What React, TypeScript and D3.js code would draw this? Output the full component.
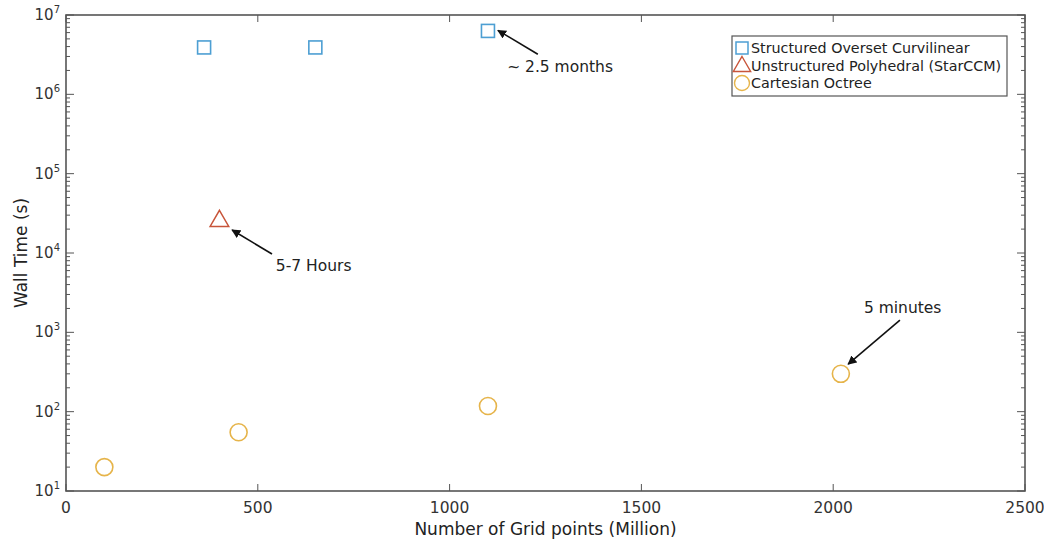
import * as d3 from "d3";
import React from "react";

// data
const structuredX = [360, 650, 1100];
const structuredY = [3.9e6, 3.9e6, 6.3e6];
const polyX = [400];
const polyY = [2.6e4];
const octreeX = [100, 450, 1100, 2020];
const octreeY = [20, 55, 118, 300];

const xTicks = [0, 500, 1000, 1500, 2000, 2500];
const yExps = [1, 2, 3, 4, 5, 6, 7];

const legendLabels = [
    "Structured Overset Curvilinear",
    "Unstructured Polyhedral (StarCCM)",
    "Cartesian Octree",
];

// annotations: text anchor + arrow tail -> head, all in data units
const notes = [
    { text: "~ 2.5 months", tx: 1150, ty: 1.9e6, fx: 1230, fy: 3.2e6, hx: 1126, hy: 6.4e6 },
    { text: "5-7 Hours", tx: 547, ty: 5.9e3, fx: 537, fy: 9.7e3, hx: 433, hy: 1.95e4 },
    { text: "5 minutes", tx: 2080, ty: 1746, fx: 2174, fy: 1426, hx: 2039, hy: 397 },
];

const blue = "#4d9fd3";
const red = "#c8553a";
const yellow = "#e6b44a";
const axisCol = "#555";
const font = "'DejaVu Sans', sans-serif";

export default function App() {
    const width = 1044;
    const height = 546;
    const margin = { top: 15, right: 19, bottom: 55, left: 66 };

    const x = d3.scaleLinear().domain([0, 2500]).range([margin.left, width - margin.right]);
    const y = d3.scaleLog().domain([10, 1e7]).range([height - margin.bottom, margin.top]);

    const x0 = x.range()[0], x1 = x.range()[1];
    const y0 = y.range()[0], y1 = y.range()[1];

    const minor: number[] = [];
    yExps.slice(0, -1).forEach((e) => {
        for (let k = 2; k <= 9; k++) minor.push(k * Math.pow(10, e));
    });

    const tri = d3.symbol().type(d3.symbolTriangle).size(150)();

    return (
        <svg width={width} height={height} style={{ position: "absolute", left: 0, top: 0, background: "#fff" }}
            fontFamily={font}>
            <rect x={0} y={0} width={width} height={height} fill="#fff" />

            {/* x ticks, bottom and top, inward */}
            {xTicks.map((t) => (
                <g key={"xt" + t}>
                    <line x1={x(t)} x2={x(t)} y1={y0} y2={y0 - 7} stroke={axisCol} strokeWidth={1} />
                    <line x1={x(t)} x2={x(t)} y1={y1} y2={y1 + 7} stroke={axisCol} strokeWidth={1} />
                    <text x={x(t)} y={y0 + 22} textAnchor="middle" fontSize={15.5} fill="#333">{t}</text>
                </g>
            ))}

            {/* y ticks, left and right */}
            {yExps.map((e) => {
                const v = Math.pow(10, e);
                return (
                    <g key={"yt" + e}>
                        <line x1={x0} x2={x0 + 8} y1={y(v)} y2={y(v)} stroke={axisCol} />
                        <line x1={x1} x2={x1 - 8} y1={y(v)} y2={y(v)} stroke={axisCol} />
                        <text x={x0 - 6} y={y(v) + 5} textAnchor="end" fontSize={15} fill="#333">
                            10<tspan dy={-7} fontSize={10}>{e}</tspan>
                        </text>
                    </g>
                );
            })}
            {minor.map((v) => (
                <g key={"ym" + v}>
                    <line x1={x0} x2={x0 + 4} y1={y(v)} y2={y(v)} stroke={axisCol} />
                    <line x1={x1} x2={x1 - 4} y1={y(v)} y2={y(v)} stroke={axisCol} />
                </g>
            ))}

            {/* box */}
            <rect x={x0} y={y1} width={x1 - x0} height={y0 - y1} fill="none" stroke={axisCol} strokeWidth={1.6} />

            {/* axis labels */}
            <text x={(x0 + x1) / 2} y={height - 11} textAnchor="middle" fontSize={17} fill="#222">
                Number of Grid points (Million)
            </text>
            <text transform={`translate(27,${(y0 + y1) / 2}) rotate(-90)`} textAnchor="middle" fontSize={17} fill="#222">
                Wall Time (s)
            </text>

            {/* markers */}
            {structuredX.map((d, i) => (
                <rect key={"s" + i} x={x(d) - 6.5} y={y(structuredY[i]) - 6.5} width={13} height={13}
                    fill="none" stroke={blue} strokeWidth={1.6} />
            ))}
            {polyX.map((d, i) => (
                <path key={"p" + i} d={tri || ""} transform={`translate(${x(d)},${y(polyY[i]) + 1})`}
                    fill="none" stroke={red} strokeWidth={1.5} />
            ))}
            {octreeX.map((d, i) => (
                <circle key={"o" + i} cx={x(d)} cy={y(octreeY[i])} r={8.5}
                    fill="none" stroke={yellow} strokeWidth={1.6} />
            ))}

            {/* annotations */}
            <defs>
                <marker id="ah" viewBox="0 0 10 10" refX={9} refY={5} markerWidth={9} markerHeight={9}
                    markerUnits="userSpaceOnUse" orient="auto">
                    <path d="M0,0 L10,5 L0,10 z" fill="#111" />
                </marker>
            </defs>
            {notes.map((n, i) => (
                <g key={"n" + i}>
                    <line x1={x(n.fx)} y1={y(n.fy)} x2={x(n.hx)} y2={y(n.hy)} stroke="#111" strokeWidth={1.6}
                        markerEnd="url(#ah)" />
                    <text x={x(n.tx)} y={y(n.ty)} fontSize={15.5} fill="#222">{n.text}</text>
                </g>
            ))}

            {/* legend */}
            <g transform="translate(732,36)">
                <rect x={0} y={0} width={275} height={60} fill="#fff" stroke={axisCol} strokeWidth={1.2} />
                {legendLabels.map((l, i) => (
                    <g key={"lg" + i} transform={`translate(0,${12 + i * 17.5})`}>
                        {i === 0 && <rect x={4} y={-6} width={12} height={12} fill="none" stroke={blue} strokeWidth={1.5} />}
                        {i === 1 && <path d={d3.symbol().type(d3.symbolTriangle).size(130)() || ""}
                            transform="translate(10,1)" fill="none" stroke={red} strokeWidth={1.4} />}
                        {i === 2 && <circle cx={10} cy={0} r={7.5} fill="none" stroke={yellow} strokeWidth={1.4} />}
                        <text x={19} y={5} fontSize={14.3} fill="#222">{l}</text>
                    </g>
                ))}
            </g>
        </svg>
    );
}
